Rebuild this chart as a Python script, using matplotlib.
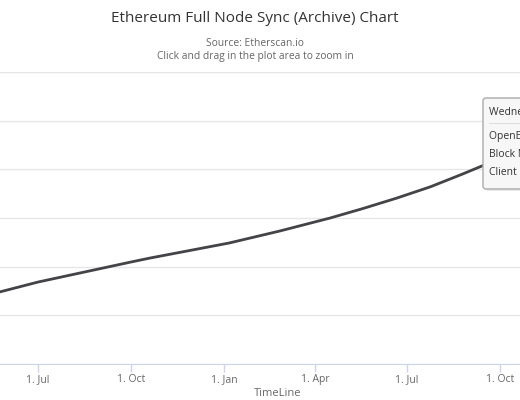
import datetime as dt
import matplotlib
matplotlib.use('Agg')
import matplotlib.pyplot as plt
import matplotlib.dates as mdates
from matplotlib.patches import FancyBboxPatch, Rectangle

plt.rcParams['font.family'] = ['Open Sans', 'DejaVu Sans']

# data (chain size, GB)
dates = ['2018-05-24', '2018-07-01', '2018-10-01', '2018-10-20', '2019-01-06',
         '2019-02-25', '2019-04-16', '2019-05-18', '2019-06-21', '2019-07-24',
         '2019-08-25', '2019-09-13', '2019-10-01']
sizes = [740, 842, 1048, 1089, 1243, 1366, 1500, 1596, 1705, 1820, 1952, 2034, 2116]

tick_dates = ['2018-07-01', '2018-10-01', '2019-01-01', '2019-04-01', '2019-07-01', '2019-10-01']
tick_labels = ['1. Jul', '1. Oct', '1. Jan', '1. Apr', '1. Jul', '1. Oct']
y_grid = [0, 500, 1000, 1500, 2000, 2500, 3000]

tooltip_lines = ['Wednesday, Sep 25, 2019', 'OpenEthereum: 2,087 GB',
                 'Block Number: 8,620,000', 'Client  Parity']

to_num = lambda s: mdates.date2num(dt.datetime.strptime(s, '%Y-%m-%d'))
x = [to_num(d) for d in dates]

fig = plt.figure(figsize=(5.2, 4.0), dpi=100)
ax = fig.add_axes([0, 36 / 400, 1.0, (364 - 72) / 400])

# x range: px 0 -> 37.6 days before 1 Jul 2018, 1.011 px/day
left = to_num('2018-07-01') - 37.6
ax.set_xlim(left, left + 520 / 1.011)
ax.set_ylim(0, 3000)

ax.set_yticks(y_grid)
ax.set_yticklabels([])
ax.tick_params(axis='y', length=0)
ax.grid(axis='y', color='#e6e6e6', linewidth=1)
ax.set_axisbelow(True)

ax.set_xticks([to_num(d) for d in tick_dates])
ax.set_xticklabels(tick_labels)
ax.tick_params(axis='x', length=6, width=1, color='#ccd6eb', labelcolor='#666666',
               labelsize=7.5, pad=1)

for s in ['top', 'left', 'right']:
    ax.spines[s].set_visible(False)
ax.spines['bottom'].set_color('#ccd6eb')

ax.plot(x, sizes, color='#434348', linewidth=2, solid_capstyle='round',
        solid_joinstyle='round')

cx = 255 / 520
fig.text(cx, 1 - 18 / 400, 'Ethereum Full Node Sync (Archive) Chart',
         ha='center', va='center', fontsize=11, color='#333333')
fig.text(cx, 1 - 43 / 400, 'Source: Etherscan.io', ha='center', va='center',
         fontsize=7.4, color='#666666')
fig.text(cx, 1 - 56 / 400, 'Click and drag in the plot area to zoom in',
         ha='center', va='center', fontsize=7.4, color='#666666')
fig.text(278 / 520, 1 - 394 / 400, 'TimeLine', ha='center', va='center',
         fontsize=8, color='#666666')

# tooltip box (pixel coords, y from bottom)
shadow = FancyBboxPatch((485, 400 - 191), 120, 91, boxstyle='round,pad=0,rounding_size=3',
                        transform=None, facecolor='#000000', alpha=0.08,
                        edgecolor='none', zorder=9)
box = FancyBboxPatch((483, 400 - 189), 120, 91, boxstyle='round,pad=0,rounding_size=3',
                     transform=None, facecolor='#f7f7f7', edgecolor='#aaaaaa',
                     linewidth=1, zorder=10)
fig.add_artist(shadow)
fig.add_artist(box)
fig.add_artist(Rectangle((489, 400 - 124), 40, 0.8, transform=None,
                         facecolor='#dddddd', edgecolor='none', zorder=11))
for txt, yy in zip(tooltip_lines, [112, 137, 155, 173]):
    fig.text(489 / 520, 1 - yy / 400, txt, ha='left', va='center',
             fontsize=7.5, color='#333333', zorder=12)

fig.savefig('out.png', dpi=100)
